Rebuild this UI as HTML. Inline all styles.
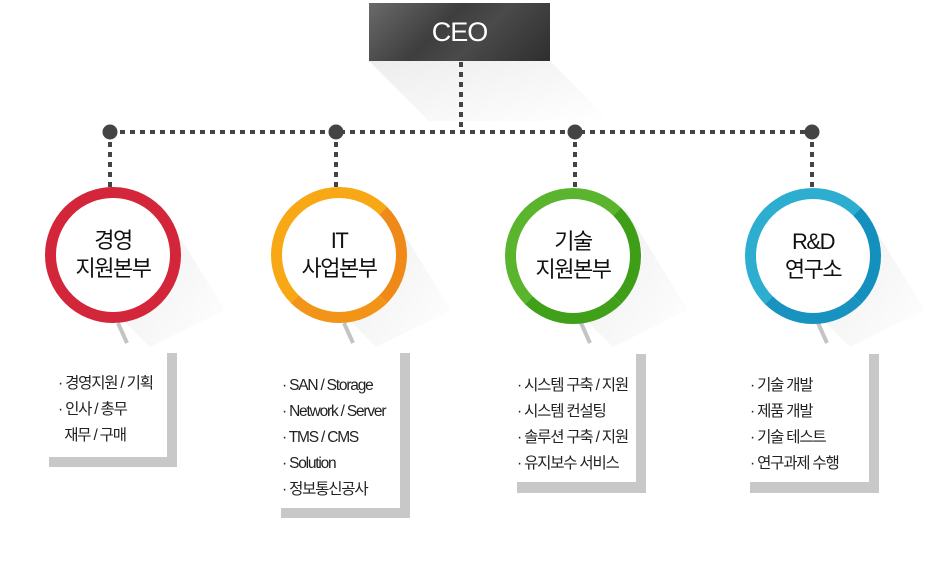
<!DOCTYPE html>
<html><head><meta charset="utf-8"><style>
body{margin:0;width:931px;height:567px;background:#fff;overflow:hidden;position:relative;font-family:"Liberation Sans","Noto Sans CJK KR",sans-serif;}
.abs{position:absolute}
.ceo{left:369px;top:3px;width:181px;height:58px;background:linear-gradient(135deg,#6a6a6a,#3e3e3e 40%,#4a4a4a 60%,#2e2e2e);color:#fff;font-size:27px;text-align:center;line-height:58px;letter-spacing:-1px}
.ring{width:114px;height:114px;border-radius:50%;border:11px solid;background:#fff;display:flex;align-items:center;justify-content:center;text-align:center;font-size:22px;line-height:28px;color:#111;letter-spacing:-1.5px}
.list{font-size:15.5px;line-height:26px;color:#222;letter-spacing:-1.2px}
.g{background:#c8c8c8}
</style></head><body>
<svg class="abs" style="left:0;top:0" width="931" height="567">
<defs>
<linearGradient id="sh" x1="0" y1="0" x2="1" y2="1"><stop offset="0" stop-color="#000" stop-opacity=".07"/><stop offset="1" stop-color="#000" stop-opacity="0"/></linearGradient>
</defs>
<polygon points="369,61 550,61 610,121 429,121" fill="url(#sh)"/>
<g fill="url(#sh)">
<polygon points="160,205 181,255 162,300 125,322 150,347 225,310"/>
<polygon points="386,205 407,255 388,300 351,322 376,347 451,310"/>
<polygon points="623,205 644,255 625,300 588,322 613,347 688,310"/>
<polygon points="860,205 881,255 862,300 825,322 850,347 925,310"/>
</g>
<g stroke="#c4c4c4" stroke-width="4">
<line x1="118" y1="323" x2="127" y2="343"/><line x1="344" y1="323" x2="353" y2="343"/>
<line x1="581" y1="323" x2="590" y2="343"/><line x1="818" y1="323" x2="827" y2="343"/>
</g>
<g stroke="#444" stroke-width="4" stroke-dasharray="5,5" fill="none">
<line x1="461" y1="62" x2="461" y2="132"/>
<line x1="110" y1="132" x2="812" y2="132"/>
<line x1="110" y1="132" x2="110" y2="188"/><line x1="336" y1="132" x2="336" y2="188"/>
<line x1="575" y1="132" x2="575" y2="188"/><line x1="812" y1="132" x2="812" y2="188"/>
</g>
<g fill="#444"><circle cx="110" cy="132" r="7.5"/><circle cx="336" cy="132" r="7.5"/><circle cx="575" cy="132" r="7.5"/><circle cx="812" cy="132" r="7.5"/></g>
</svg>
<div class="abs ceo">CEO</div>
<div class="abs ring" style="left:45px;top:187px;border-color:#d3263a">경영<br>지원본부</div>
<div class="abs ring" style="left:271px;top:187px;border-color:#f7a814;border-right-color:#ef8a18;border-bottom-color:#f29417">IT<br>사업본부</div>
<div class="abs ring" style="left:505px;top:188px;border-color:#5bb42e;border-right-color:#3e9e18;border-bottom-color:#40a01a">기술<br>지원본부</div>
<div class="abs ring" style="left:745px;top:188px;border-color:#2daed0;border-right-color:#1390bd;border-bottom-color:#1893bf">R&amp;D<br>연구소</div>

<div class="abs g" style="left:167px;top:353px;width:10px;height:114px"></div>
<div class="abs g" style="left:49px;top:457px;width:128px;height:10px"></div>
<div class="abs g" style="left:400px;top:353px;width:10px;height:165px"></div>
<div class="abs g" style="left:281px;top:508px;width:129px;height:10px"></div>
<div class="abs g" style="left:636px;top:354px;width:10px;height:139px"></div>
<div class="abs g" style="left:517px;top:482px;width:129px;height:11px"></div>
<div class="abs g" style="left:869px;top:354px;width:10px;height:139px"></div>
<div class="abs g" style="left:750px;top:482px;width:129px;height:11px"></div>

<div class="abs list" style="left:58px;top:371px">· 경영지원 / 기획<br>· 인사 / 총무<br>&nbsp;&nbsp;재무 / 구매</div>
<div class="abs list" style="left:282px;top:373px">· SAN / Storage<br>· Network / Server<br>· TMS / CMS<br>· Solution<br>· 정보통신공사</div>
<div class="abs list" style="left:517px;top:373px">· 시스템 구축 / 지원<br>· 시스템 컨설팅<br>· 솔루션 구축 / 지원<br>· 유지보수 서비스</div>
<div class="abs list" style="left:750px;top:373px">· 기술 개발<br>· 제품 개발<br>· 기술 테스트<br>· 연구과제 수행</div>
</body></html>
